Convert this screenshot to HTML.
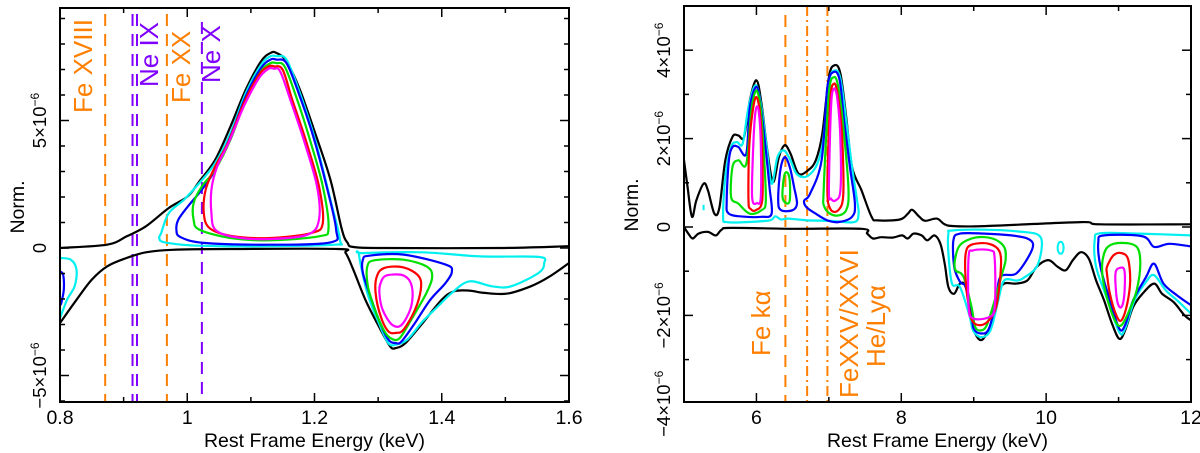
<!DOCTYPE html>
<html><head><meta charset="utf-8">
<style>
html,body{margin:0;padding:0;background:#fff;}
svg{display:block;font-family:"Liberation Sans",Arial,sans-serif;}
</style></head>
<body>
<svg id="chart" width="1200" height="453" viewBox="0 0 1200 453" xmlns="http://www.w3.org/2000/svg"></svg>
<script>
// ---------------- DATA: left panel (E keV, Norm 1e-6) ----------------
const L_xTicks=[0.8,1.0,1.2,1.4,1.6];
const L_xTickLabels=["0.8","1","1.2","1.4","1.6"];
const L_yTicks=[-5,0,5];
const L_lines=[{e:0.871,c:"#ff7f00",lab:"Fe XVIII"},{e:0.914,c:"#7f00ff",lab:""},{e:0.921,c:"#7f00ff",lab:"Ne IX"},{e:0.968,c:"#ff7f00",lab:"Fe XX"},{e:1.023,c:"#7f00ff",lab:"Ne X"}];
const L_blackTopE=[0.80,0.874,0.905,0.935,0.971,1.001,1.019,1.044,1.068,1.092,1.116,1.131,1.140,1.156,1.177,1.201,1.225,1.243,1.252,1.261,1.31,1.491,1.6];
const L_blackTopN=[0,0.13,0.46,0.85,1.57,2.03,2.61,3.46,4.77,6.21,7.32,7.65,7.65,7.32,6.21,4.51,2.68,0.72,0.2,0.04,0,0,0.07];
const L_blackBotE=[0.8,0.826,0.850,0.874,0.905,0.935,0.977,1.068,1.237,1.249,1.261,1.280,1.301,1.319,1.328,1.343,1.370,1.400,1.419,1.443,1.467,1.503,1.540,1.570,1.6];
const L_blackBotN=[-2.94,-2.03,-1.24,-0.72,-0.39,-0.17,-0.07,-0.04,-0.04,-0.2,-0.85,-2.03,-3.07,-3.86,-3.92,-3.73,-2.94,-2.03,-1.70,-1.67,-1.76,-1.79,-1.50,-1.11,-0.59];
const L_cyanPeakE=[0.959,0.956,0.965,1.019,1.128,1.231,1.240,1.225,1.201,1.177,1.156,1.140,1.131,1.116,1.092,1.068,1.044,1.019,0.995,0.971];
const L_cyanPeakN=[0.59,0.39,0.22,0.09,0.07,0.13,0.33,1.90,4.25,6.08,7.39,7.52,7.52,7.19,6.08,4.51,3.33,2.55,1.90,1.37];
const L_bluePeakE=[0.983,0.989,1.026,1.128,1.225,1.234,1.219,1.198,1.176,1.156,1.140,1.131,1.116,1.092,1.068,1.044,1.023,1.001,0.986];
const L_bluePeakN=[0.72,0.43,0.20,0.13,0.22,0.72,2.42,4.38,6.01,7.25,7.39,7.39,7.06,5.95,4.38,3.07,2.29,1.63,1.11];
const L_greenPeakE=[1.010,1.019,1.068,1.128,1.207,1.222,1.213,1.192,1.171,1.153,1.140,1.131,1.116,1.092,1.068,1.044,1.023,1.010];
const L_greenPeakN=[1.11,0.72,0.39,0.30,0.46,0.78,2.42,4.31,5.95,7.12,7.25,7.25,6.93,5.82,4.25,3.07,2.42,1.76];
const L_redPeakE=[1.026,1.035,1.068,1.128,1.195,1.213,1.207,1.186,1.165,1.150,1.137,1.128,1.113,1.089,1.065,1.044,1.029];
const L_redPeakN=[1.37,0.78,0.48,0.39,0.59,0.98,2.42,4.25,5.82,6.99,7.12,7.12,6.80,5.69,4.18,3.20,2.29];
const L_magPeakE=[1.038,1.044,1.074,1.128,1.189,1.207,1.204,1.183,1.162,1.146,1.136,1.128,1.113,1.089,1.065,1.047,1.038];
const L_magPeakN=[1.37,0.72,0.43,0.35,0.52,1.11,2.42,4.25,5.82,6.93,7.03,7.03,6.67,5.56,4.12,3.20,2.29];
const L_cyanEdgeE=[0.8,0.817,0.826,0.823,0.811,0.8];
const L_cyanEdgeN=[-0.39,-0.46,-0.85,-1.50,-2.03,-2.75];
const L_blueEdgeE=[0.8,0.805,0.806,0.802,0.8];
const L_blueEdgeN=[-0.92,-1.05,-1.63,-2.16,-2.22];
const L_cyanAbsE=[1.270,1.276,1.370,1.461,1.552,1.561,1.552,1.509,1.479,1.443,1.416,1.394,1.370,1.346,1.328,1.316,1.301,1.283];
const L_cyanAbsN=[-0.26,-0.2,-0.17,-0.33,-0.35,-0.59,-0.98,-1.50,-1.50,-1.31,-1.76,-2.29,-2.88,-3.59,-3.79,-3.73,-2.94,-1.76];
const L_blueAbsE=[1.276,1.286,1.340,1.406,1.416,1.406,1.382,1.358,1.337,1.328,1.316,1.301,1.286,1.276];
const L_blueAbsN=[-0.46,-0.30,-0.26,-0.65,-0.92,-1.37,-2.03,-2.94,-3.66,-3.73,-3.59,-2.81,-1.76,-0.98];
const L_greenAbsE=[1.283,1.295,1.340,1.376,1.385,1.376,1.352,1.334,1.322,1.310,1.295,1.284];
const L_greenAbsN=[-0.72,-0.48,-0.46,-0.72,-1.11,-1.76,-2.81,-3.53,-3.57,-3.27,-2.42,-1.50];
const L_redAbsE=[1.298,1.310,1.340,1.364,1.367,1.358,1.340,1.328,1.316,1.304,1.296];
const L_redAbsN=[-1.11,-0.78,-0.76,-1.11,-1.63,-2.42,-3.20,-3.33,-3.27,-2.68,-1.76];
const L_magAbsE=[1.304,1.313,1.340,1.353,1.352,1.337,1.322,1.307,1.302];
const L_magAbsN=[-1.37,-1.08,-1.08,-1.50,-2.29,-3.01,-3.01,-2.42,-1.76];

// ---------------- DATA: right panel ----------------
const R_xTicks=[6,8,10,12];
const R_xTickLabels=["6","8","10","12"];
const R_yTicks=[-4,-2,0,2,4];
const R_lines=[{e:6.40,c:"#ff7f00",d:"12,8"},{e:6.70,c:"#ff7f00",d:"10,4,2,4"},{e:6.98,c:"#ff7f00",d:"10,4,2,4"}];
const R_blackTopE=[5.00,5.05,5.11,5.17,5.27,5.33,5.42,5.49,5.57,5.67,5.75,5.83,5.91,6.00,6.07,6.15,6.23,6.31,6.39,6.47,6.58,6.71,6.82,6.91,7.00,7.08,7.16,7.24,7.32,7.45,7.59,7.67,7.98,8.09,8.15,8.25,8.33,8.49,8.60,8.73,9.15,10.48,10.75,12];
const R_blackTopN=[1.51,0.90,0.23,0.60,0.98,0.83,0.30,0.45,1.51,2.04,2.07,2.04,2.87,3.32,2.79,1.73,1.02,1.58,1.85,1.66,1.21,1.28,1.51,2.11,3.39,3.66,3.47,2.49,1.36,0.83,0.23,0.15,0.17,0.30,0.39,0.23,0.14,0.19,0.06,0.02,0.02,0.11,0.06,0.06];
const R_blackBotE=[5.00,5.06,5.12,5.20,5.33,5.44,5.52,5.65,6.50,7.45,7.53,7.61,7.72,7.88,8.01,8.09,8.17,8.28,8.36,8.46,8.54,8.60,8.65,8.73,8.81,8.89,8.97,9.02,9.10,9.18,9.26,9.34,9.42,9.58,9.74,9.87,10.03,10.16,10.27,10.37,10.48,10.59,10.69,10.80,10.91,11.01,11.09,11.20,11.33,11.49,11.60,11.76,11.91,12];
const R_blackBotN=[0,-0.15,-0.26,-0.15,-0.11,-0.19,-0.06,-0.02,-0.04,-0.04,-0.15,-0.26,-0.23,-0.24,-0.19,-0.26,-0.15,-0.19,-0.30,-0.19,-0.38,-0.83,-1.36,-1.51,-1.28,-1.36,-2.11,-2.41,-2.56,-2.41,-2.11,-1.51,-1.28,-1.28,-1.21,-0.90,-0.75,-0.90,-0.98,-0.75,-0.57,-0.72,-1.21,-1.66,-2.19,-2.53,-2.34,-1.81,-1.51,-1.28,-1.51,-1.70,-2.0,-2.11];
const R_cyanPkE=[5.54,5.57,5.65,5.73,5.81,5.89,5.99,6.07,6.14,6.21,6.29,6.38,6.47,6.55,6.66,6.75,6.84,6.92,7.00,7.08,7.16,7.24,7.32,7.39,7.41,7.35,7.03,6.71,6.44,6.34,6.26,6.18,5.86,5.59];
const R_cyanPkN=[0.23,1.13,1.81,1.92,1.89,2.71,3.21,2.71,1.81,0.98,1.58,1.73,1.51,1.21,1.13,1.21,1.43,1.96,3.28,3.54,3.36,2.41,1.36,0.60,0.30,0.11,0.14,0.15,0.19,0.17,0.24,0.15,0.11,0.11];
const R_blue6E=[5.59,5.62,5.67,5.75,5.86,5.91,6.00,6.06,6.12,6.18,6.21,6.07,5.86,5.62];
const R_blue6N=[0.60,1.51,1.81,1.81,1.66,2.71,3.17,2.71,1.89,0.90,0.30,0.23,0.23,0.30];
const R_blue64E=[6.30,6.33,6.39,6.46,6.52,6.56,6.50,6.34];
const R_blue64N=[0.60,1.28,1.58,1.36,0.90,0.53,0.38,0.38];
const R_blue7E=[6.66,6.74,6.90,6.98,7.07,7.15,7.21,7.29,7.36,7.32,7.13,6.98,6.82,6.69];
const R_blue7N=[0.60,0.75,1.51,3.17,3.51,3.32,2.41,1.36,0.53,0.23,0.11,0.15,0.30,0.45];
const R_green6E=[5.65,5.67,5.75,5.86,5.93,6.00,6.06,6.10,6.13,6.07,5.91,5.75];
const R_green6N=[0.68,1.36,1.51,1.43,2.64,3.09,2.64,1.73,0.60,0.38,0.30,0.53];
const R_green64E=[6.36,6.38,6.42,6.46,6.46,6.41];
const R_green64N=[0.68,1.13,1.24,1.06,0.60,0.54];
const R_green7E=[6.93,7.00,7.07,7.13,7.20,7.27,7.24,7.08,6.94];
const R_green7N=[0.90,3.02,3.39,3.17,2.26,0.90,0.38,0.26,0.45];
const R_red6E=[5.89,5.90,5.95,6.00,6.05,6.08,6.08,5.99,5.92];
const R_red6N=[0.60,1.81,2.64,2.94,2.56,1.66,0.60,0.38,0.41];
const R_red7E=[6.98,7.02,7.07,7.12,7.18,7.20,7.13,7.02];
const R_red7N=[0.90,2.87,3.24,3.02,2.11,0.75,0.38,0.41];
const R_mag6E=[5.94,5.96,5.99,6.03,6.06,6.06,6.01];
const R_mag6N=[0.68,1.96,2.64,2.64,1.89,0.68,0.54];
const R_mag7E=[7.00,7.03,7.07,7.12,7.16,7.16,7.09,7.03];
const R_mag7N=[0.83,2.71,3.13,2.87,1.96,0.83,0.60,0.64];
const R_cyan9E=[8.65,8.70,9.15,9.68,9.90,9.94,9.87,9.71,9.60,9.42,9.34,9.23,9.10,8.99,8.94,8.81,8.70,8.65];
const R_cyan9N=[-0.15,-0.08,-0.06,-0.11,-0.19,-0.45,-0.90,-1.13,-1.21,-1.21,-1.66,-2.34,-2.49,-2.34,-2.0,-1.36,-1.28,-0.60];
const R_blue9E=[8.72,8.81,9.15,9.52,9.74,9.82,9.74,9.58,9.37,9.31,9.21,9.10,9.00,8.97,8.89,8.81,8.73];
const R_blue9N=[-0.30,-0.15,-0.15,-0.19,-0.26,-0.41,-0.72,-1.06,-1.13,-1.66,-2.30,-2.41,-2.30,-1.96,-1.36,-1.24,-0.90];
const R_green9E=[8.74,8.81,9.02,9.26,9.42,9.44,9.39,9.29,9.18,9.10,9.02,8.97,8.86,8.75];
const R_green9N=[-0.75,-0.41,-0.24,-0.26,-0.45,-0.75,-1.06,-1.66,-2.22,-2.34,-2.26,-1.81,-1.13,-0.98];
const R_red9E=[8.89,8.97,9.21,9.36,9.37,9.31,9.21,9.10,8.99,8.94,8.89];
const R_red9N=[-0.60,-0.40,-0.38,-0.57,-1.06,-1.81,-2.11,-2.22,-2.15,-1.89,-1.21];
const R_mag9E=[8.93,8.99,9.23,9.29,9.29,9.21,8.99,8.93];
const R_mag9N=[-0.68,-0.53,-0.53,-0.72,-1.81,-2.04,-2.07,-1.81];
const R_cyan11E=[12,11.28,10.75,10.67,10.69,10.85,11.01,11.09,11.22,11.38,11.49,11.65,11.81,12];
const R_cyan11N=[-0.19,-0.15,-0.14,-0.30,-0.90,-1.66,-2.38,-2.30,-1.66,-1.24,-1.09,-1.43,-1.66,-1.96];
const R_blue11E=[12,11.70,11.49,11.33,10.80,10.72,10.75,10.88,11.01,11.09,11.20,11.38,11.49,11.62,11.81,12];
const R_blue11N=[-0.44,-0.38,-0.45,-0.21,-0.19,-0.34,-0.90,-1.66,-2.30,-2.22,-1.66,-1.13,-0.83,-1.28,-1.55,-1.77];
const R_green11E=[10.78,10.85,11.04,11.25,11.30,11.25,11.14,11.04,10.96,10.85,10.78];
const R_green11N=[-0.75,-0.45,-0.36,-0.45,-0.83,-1.43,-1.92,-2.22,-2.15,-1.66,-1.13];
const R_red11E=[10.84,10.93,11.04,11.13,11.16,11.12,11.04,10.97,10.88,10.84];
const R_red11N=[-0.90,-0.64,-0.59,-0.72,-1.21,-1.73,-2.11,-2.0,-1.51,-1.06];
const R_mag11E=[10.96,11.01,11.08,11.08,11.04,10.99,10.96];
const R_mag11N=[-1.02,-0.93,-0.98,-1.51,-1.81,-1.73,-1.36];

const NS="http://www.w3.org/2000/svg";
const svg=document.getElementById('chart');
function mk(tag,attrs,parent){const el=document.createElementNS(NS,tag);for(const k in attrs)el.setAttribute(k,attrs[k]);(parent||svg).appendChild(el);return el;}
const CY="#00f0f0",BL="#0000ff",GR="#00e000",RD="#ff0000",MG="#ff00ff";

// Catmull-Rom smoothing
function smoothPath(pts,closed){
  const n=pts.length;if(n<3){return 'M'+pts.map(p=>p[0].toFixed(1)+','+p[1].toFixed(1)).join('L');}
  const get=i=>closed?pts[(i+n)%n]:pts[Math.max(0,Math.min(n-1,i))];
  let d='M'+pts[0][0].toFixed(1)+','+pts[0][1].toFixed(1);
  const segs=closed?n:n-1;const t=0.5/3*2*0.5;
  for(let i=0;i<segs;i++){
    const p0=get(i-1),p1=get(i),p2=get(i+1),p3=get(i+2);
    const k=1/6;
    const c1=[p1[0]+(p2[0]-p0[0])*k,p1[1]+(p2[1]-p0[1])*k];
    const c2=[p2[0]-(p3[0]-p1[0])*k,p2[1]-(p3[1]-p1[1])*k];
    d+='C'+c1[0].toFixed(1)+','+c1[1].toFixed(1)+' '+c2[0].toFixed(1)+','+c2[1].toFixed(1)+' '+p2[0].toFixed(1)+','+p2[1].toFixed(1);
  }
  if(closed)d+='Z';
  return d;
}

function panel(P){
  const g=mk('g',{});
  
  
  const X=e=>P.x0+(e-P.e0)/(P.e1-P.e0)*(P.x1-P.x0);
  const Y=n=>P.yz-n*P.ys;
  const clipId=P.name+'-clip';
  const defs=mk('defs',{},g);
  const cp=mk('clipPath',{id:clipId},defs);
  mk('rect',{x:P.x0,y:P.y0,width:P.x1-P.x0,height:P.y1-P.y0},cp);
  const plot=mk('g',{'clip-path':'url(#'+clipId+')'},g);
  P.lines.forEach((l,i)=>{
    const ln=mk('line',{x1:X(l.e),x2:X(l.e),y1:P.lineTop[i],y2:P.y1,stroke:l.c,'stroke-width':2,'stroke-dasharray':l.d||'12,8'},plot);
    
    
  });
  P.curves.forEach(cv=>{
    const pts=cv.e.map((e,i)=>[X(e),Y(cv.n[i])]);
    const p=mk('path',{d:smoothPath(pts,!!cv.closed),fill:'none',stroke:cv.c,'stroke-width':2.2,'stroke-linejoin':'round'},plot);
    
    
  });
  const fr=mk('rect',{x:P.x0,y:P.y0,width:P.x1-P.x0,height:P.y1-P.y0,fill:'none',stroke:'#000','stroke-width':2},g);
  
  
  for(let e=P.e0;e<=P.e1+1e-9;e+=P.xMinor){
    const major=P.xTicks.some(t=>Math.abs(t-e)<1e-6);
    const L=major?9:5;const x=X(e);
    mk('line',{x1:x,x2:x,y1:P.y1,y2:P.y1-L,stroke:'#000','stroke-width':1.5},g);
    mk('line',{x1:x,x2:x,y1:P.y0,y2:P.y0+L,stroke:'#000','stroke-width':1.5},g);
  }
  P.xTicks.forEach((t,i)=>{
    const tx=mk('text',{x:X(t),y:P.y1+22,'font-size':19.5,'text-anchor':'middle'},g);
    tx.textContent=P.xLabels[i];
    
    
  });
  for(let n=Math.ceil(P.nMin);n<=P.nMax;n++){
    const major=P.yTicks.includes(n);
    const L=major?9:5;const y=Y(n);
    if(y<P.y0-0.5||y>P.y1+0.5)continue;
    mk('line',{x1:P.x0,x2:P.x0+L,y1:y,y2:y,stroke:'#000','stroke-width':1.5},g);
    mk('line',{x1:P.x1,x2:P.x1-L,y1:y,y2:y,stroke:'#000','stroke-width':1.5},g);
  }
  P.yTicks.forEach(t=>{
    const y=Y(t);const x=P.x0-14;
    const tx=mk('text',{x:x,y:y,'font-size':18.5,'text-anchor':'middle',transform:'rotate(-90 '+x+' '+y+')'},g);
    if(t===0){tx.textContent='0';}
    else{
      tx.textContent=(t<0?'\u2212':'')+Math.abs(t)+'\u00d710';
      const ts=mk('tspan',{'font-size':12,dy:-7},tx);ts.textContent='\u22126';
    }
    
    
  });
  const xt=mk('text',{x:(P.x0+P.x1)/2,y:447,'font-size':19.5,'text-anchor':'middle'},g);
  xt.textContent='Rest Frame Energy (keV)';
  
  
  const yx=P.normX,yy=P.normY;
  const yt=mk('text',{x:yx,y:yy,'font-size':19.5,'text-anchor':'middle',transform:'rotate(-90 '+yx+' '+yy+')'},g);
  yt.textContent='Norm.';
  
  
  P.labels.forEach(lb=>{
    const t=mk('text',{x:lb.y,y:lb.x,'font-size':26,fill:lb.c,transform:'rotate(-90 '+lb.y+' '+lb.x+')'},g);
    // rotated about (lb.y,lb.x) then placed so baseline sits at screen x=lb.x, start at screen y=lb.y
    t.setAttribute('transform','translate('+lb.x+','+lb.y+') rotate(-90)');
    t.setAttribute('x',0);t.setAttribute('y',0);
    t.textContent=lb.t;
    
    
  });
  return {X,Y,g};
}

panel({name:'left-panel',x0:60,x1:569,y0:8,y1:402,e0:0.8,e1:1.6,yz:248,ys:25.5,nMin:-6,nMax:9,
  xTicks:L_xTicks,xLabels:L_xTickLabels,xMinor:0.1,yTicks:L_yTicks,normX:24,normY:207,
  lines:L_lines,lineTop:[14,14,14,14,22],
  labels:[{t:'Fe XVIII',x:92,y:113,c:'#ff7f00'},{t:'Ne IX',x:158,y:87,c:'#7f00ff'},{t:'Fe XX',x:190,y:103,c:'#ff7f00'},{t:'Ne X',x:220,y:83,c:'#7f00ff'}],
  curves:[
    {name:'contour-black-upper',e:L_blackTopE,n:L_blackTopN,c:'#000'},
    {name:'contour-black-lower',e:L_blackBotE,n:L_blackBotN,c:'#000'},
    {name:'contour-cyan-peak',e:L_cyanPeakE,n:L_cyanPeakN,c:CY,closed:1},
    {name:'contour-blue-peak',e:L_bluePeakE,n:L_bluePeakN,c:BL,closed:1},
    {name:'contour-green-peak',e:L_greenPeakE,n:L_greenPeakN,c:GR,closed:1},
    {name:'contour-red-peak',e:L_redPeakE,n:L_redPeakN,c:RD,closed:1},
    {name:'contour-magenta-peak',e:L_magPeakE,n:L_magPeakN,c:MG,closed:1},
    {name:'contour-cyan-edge',e:L_cyanEdgeE,n:L_cyanEdgeN,c:CY},
    {name:'contour-blue-edge',e:L_blueEdgeE,n:L_blueEdgeN,c:BL},
    {name:'contour-cyan-abs',e:L_cyanAbsE,n:L_cyanAbsN,c:CY,closed:1},
    {name:'contour-blue-abs',e:L_blueAbsE,n:L_blueAbsN,c:BL,closed:1},
    {name:'contour-green-abs',e:L_greenAbsE,n:L_greenAbsN,c:GR,closed:1},
    {name:'contour-red-abs',e:L_redAbsE,n:L_redAbsN,c:RD,closed:1},
    {name:'contour-magenta-abs',e:L_magAbsE,n:L_magAbsN,c:MG,closed:1}
  ]});

const R=panel({name:'right-panel',x0:684,x1:1191,y0:6,y1:402,e0:5,e1:12,yz:227,ys:44.2,nMin:-4,nMax:5,
  xTicks:R_xTicks,xLabels:R_xTickLabels,xMinor:1,yTicks:R_yTicks,normX:638,normY:205,
  lines:R_lines,lineTop:[15,6,6],
  labels:[{t:'Fe k\u03b1',x:770,y:356,c:'#ff7f00'},{t:'FeXXV/XXVI',x:858,y:398,c:'#ff7f00'},{t:'He/Ly\u03b1',x:885,y:367,c:'#ff7f00'}],
  curves:[
    {name:'contour-black-upper',e:R_blackTopE,n:R_blackTopN,c:'#000'},
    {name:'contour-black-lower',e:R_blackBotE,n:R_blackBotN,c:'#000'},
    {name:'contour-cyan-emission',e:R_cyanPkE,n:R_cyanPkN,c:CY,closed:1},
    {name:'contour-blue-6kev',e:R_blue6E,n:R_blue6N,c:BL,closed:1},
    {name:'contour-blue-6.4kev',e:R_blue64E,n:R_blue64N,c:BL,closed:1},
    {name:'contour-blue-7kev',e:R_blue7E,n:R_blue7N,c:BL,closed:1},
    {name:'contour-green-6kev',e:R_green6E,n:R_green6N,c:GR,closed:1},
    {name:'contour-green-6.4kev',e:R_green64E,n:R_green64N,c:GR,closed:1},
    {name:'contour-green-7kev',e:R_green7E,n:R_green7N,c:GR,closed:1},
    {name:'contour-red-6kev',e:R_red6E,n:R_red6N,c:RD,closed:1},
    {name:'contour-red-7kev',e:R_red7E,n:R_red7N,c:RD,closed:1},
    {name:'contour-magenta-6kev',e:R_mag6E,n:R_mag6N,c:MG,closed:1},
    {name:'contour-magenta-7kev',e:R_mag7E,n:R_mag7N,c:MG,closed:1},
    {name:'contour-cyan-9kev',e:R_cyan9E,n:R_cyan9N,c:CY,closed:1},
    {name:'contour-blue-9kev',e:R_blue9E,n:R_blue9N,c:BL,closed:1},
    {name:'contour-green-9kev',e:R_green9E,n:R_green9N,c:GR,closed:1},
    {name:'contour-red-9kev',e:R_red9E,n:R_red9N,c:RD,closed:1},
    {name:'contour-magenta-9kev',e:R_mag9E,n:R_mag9N,c:MG,closed:1},
    {name:'contour-cyan-11kev',e:R_cyan11E,n:R_cyan11N,c:CY},
    {name:'contour-blue-11kev',e:R_blue11E,n:R_blue11N,c:BL},
    {name:'contour-green-11kev',e:R_green11E,n:R_green11N,c:GR,closed:1},
    {name:'contour-red-11kev',e:R_red11E,n:R_red11N,c:RD,closed:1},
    {name:'contour-magenta-11kev',e:R_mag11E,n:R_mag11N,c:MG,closed:1}
  ]});
const isl=mk('ellipse',{cx:R.X(10.2),cy:R.Y(-0.47),rx:3,ry:6,fill:'none',stroke:CY,'stroke-width':2},R.g);


const isl2=mk('line',{x1:R.X(5.27),x2:R.X(5.27),y1:R.Y(0.5),y2:R.Y(0.38),stroke:CY,'stroke-width':2},R.g);


</script>
</body></html>
